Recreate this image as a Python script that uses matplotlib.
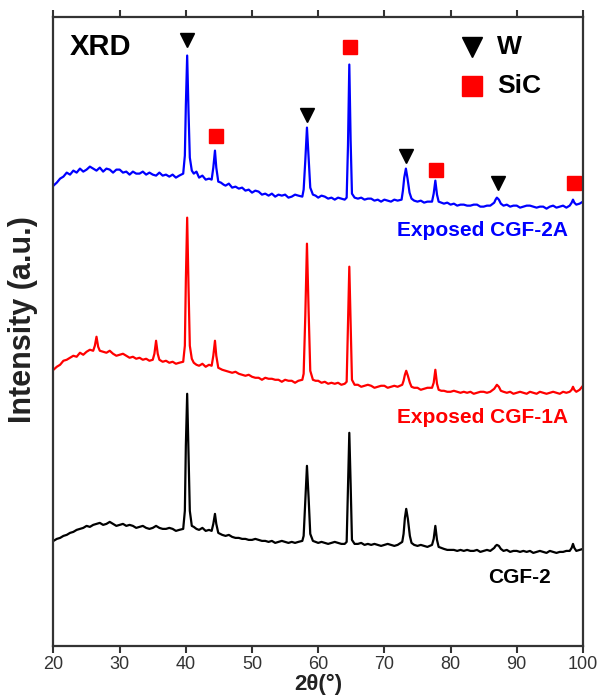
import matplotlib
matplotlib.use("Agg")
import matplotlib.pyplot as plt

plt.rcParams['font.family'] = ['Liberation Sans', 'DejaVu Sans']

# ---------------- data (2theta, intensity in a.u., already stacked) ----------------
two_theta_2A = [20, 20.5, 21, 21.5, 22, 22.5, 23, 23.5, 24, 24.5, 25, 25.5, 26, 26.5, 27, 27.5, 28, 28.5,
                29, 29.5, 30, 30.5, 31, 31.5, 32, 32.5, 33, 33.5, 34, 34.5, 35, 35.5, 36, 36.5, 37, 37.5,
                38, 38.5, 39, 39.6, 39.85, 40.0, 40.2, 40.4, 40.6, 40.9, 41.2, 41.6, 42, 42.5, 43, 43.5,
                43.9, 44.15, 44.4, 44.6, 44.9, 45.3, 45.7, 46, 46.5, 47, 47.5, 48, 48.5, 49, 49.5, 50,
                50.5, 51, 51.5, 52, 52.5, 53, 53.5, 54, 54.5, 55, 55.5, 56, 56.5, 57, 57.6, 57.8, 58.05,
                58.3, 58.55, 58.8, 59.2, 59.6, 60, 60.5, 61, 61.5, 62, 62.5, 63, 63.5, 64, 64.3, 64.5,
                64.7, 64.9, 65.1, 65.5, 66, 66.5, 67, 67.5, 68, 68.5, 69, 69.5, 70, 70.5, 71, 71.5, 72,
                72.6, 72.8, 73.0, 73.25, 73.5, 73.8, 74.1, 74.5, 75, 75.5, 76, 76.5, 77.2, 77.45, 77.7,
                77.95, 78.2, 78.6, 79, 79.5, 80, 80.5, 81, 81.5, 82, 82.5, 83, 83.5, 84, 84.5, 85, 85.5,
                86, 86.6, 86.8, 87.0, 87.3, 87.6, 88, 88.5, 89, 89.5, 90, 90.5, 91, 91.5, 92, 92.5, 93,
                93.5, 94, 94.5, 95, 95.5, 96, 96.5, 97, 97.5, 98, 98.3, 98.5, 98.7, 99, 99.5, 100]
counts_2A = [460, 463, 467, 469, 473, 471, 475, 473, 477, 474, 476, 479, 477, 475, 478, 474, 477, 476,
             473, 476, 476, 473, 474, 471, 474, 472, 472, 474, 471, 473, 471, 470, 473, 470, 471, 469,
             471, 468, 470, 472, 490, 540, 590, 535, 488, 475, 472, 474, 468, 470, 466, 467,
             466, 478, 495, 478, 464, 463, 461, 460, 462, 458, 459, 457, 458, 455, 456, 453,
             455, 454, 451, 452, 450, 452, 449, 451, 450, 451, 448, 449, 451, 450, 449, 456, 485,
             518, 488, 458, 451, 450, 448, 450, 449, 447, 448, 446, 448, 447, 446, 448, 500,
             581, 505, 452, 448, 447, 448, 446, 447, 447, 445, 446, 444, 446, 445, 444, 446, 445,
             446, 455, 468, 477, 467, 453, 447, 445, 444, 445, 443, 444, 444, 452, 465,
             451, 444, 443, 442, 443, 441, 442, 440, 441, 441, 440, 440, 441, 441, 439, 439, 440,
             440, 443, 446, 448, 446, 442, 440, 441, 439, 440, 440, 438, 439, 440, 440, 439, 438,
             439, 439, 437, 439, 440, 438, 439, 440, 438, 440, 443, 446, 443, 441, 442, 444]

two_theta_1A = [20, 20.5, 21, 21.5, 22, 22.5, 23, 23.5, 24, 24.5, 25, 25.5, 26, 26.25, 26.5, 26.75, 27,
                27.5, 28, 28.5, 29, 29.5, 30, 30.5, 31, 31.5, 32, 32.5, 33, 33.5, 34, 34.5, 35, 35.25,
                35.5, 35.75, 36, 36.5, 37, 37.5, 38, 38.5, 39, 39.6, 39.85, 40.0, 40.2, 40.4, 40.6,
                40.9, 41.2, 41.6, 42, 42.5, 43, 43.5, 43.9, 44.15, 44.4, 44.6, 44.9, 45.5, 46, 46.5,
                47, 47.5, 48, 48.5, 49, 49.5, 50, 50.5, 51, 51.5, 52, 52.5, 53, 53.5, 54, 54.5, 55,
                55.5, 56, 56.5, 57, 57.6, 57.8, 58.05, 58.3, 58.55, 58.8, 59.2, 59.6, 60, 60.5, 61,
                61.5, 62, 62.5, 63, 63.5, 64, 64.3, 64.5, 64.7, 64.9, 65.1, 65.5, 66, 66.5, 67, 67.5,
                68, 68.5, 69, 69.5, 70, 70.5, 71, 71.5, 72, 72.7, 72.9, 73.1, 73.3, 73.55, 73.85, 74.1,
                74.5, 75, 75.5, 76, 76.5, 77.2, 77.45, 77.7, 77.95, 78.2, 78.6, 79, 79.5, 80, 80.5, 81,
                81.5, 82, 82.5, 83, 83.5, 84, 84.5, 85, 85.5, 86, 86.6, 86.8, 87.0, 87.3, 87.6, 88,
                88.5, 89, 89.5, 90, 90.5, 91, 91.5, 92, 92.5, 93, 93.5, 94, 94.5, 95, 95.5, 96, 96.5,
                97, 97.5, 98, 98.3, 98.5, 98.7, 99, 99.5, 100]
counts_1A = [276, 279, 281, 285, 286, 288, 290, 289, 293, 291, 294, 296, 295, 300, 309, 299, 295,
             294, 293, 295, 292, 290, 291, 292, 290, 288, 289, 287, 288, 286, 287, 285, 286, 292,
             305, 292, 286, 284, 285, 283, 284, 282, 283, 284, 300, 365, 428, 360, 300,
             287, 283, 281, 280, 282, 279, 281, 280, 290, 305, 290, 278, 276, 275, 274,
             273, 274, 272, 271, 270, 271, 269, 268, 268, 266, 268, 267, 267, 266, 266, 264, 266,
             265, 265, 263, 265, 266, 272, 330, 402, 335, 275, 266, 265, 265, 263, 264,
             262, 263, 262, 263, 261, 262, 264, 320, 379, 322, 266, 261, 261, 259, 260, 261,
             260, 258, 259, 260, 260, 258, 259, 260, 259, 261, 265, 271, 275, 270, 263, 259,
             258, 258, 256, 257, 258, 258, 263, 276, 262, 256, 255, 255, 254, 254, 255, 254,
             253, 254, 253, 254, 252, 253, 254, 254, 253, 254, 257, 259, 261, 259, 255, 254,
             253, 254, 252, 253, 254, 253, 252, 254, 253, 252, 254, 253, 252, 253, 254, 253, 252,
             254, 253, 254, 256, 259, 256, 254, 256, 260]

two_theta_2 = [20, 20.5, 21, 21.5, 22, 22.5, 23, 23.5, 24, 24.5, 25, 25.5, 26, 26.5, 27, 27.5, 28,
               28.5, 29, 29.5, 30, 30.5, 31, 31.5, 32, 32.5, 33, 33.5, 34, 34.5, 35, 35.5, 36, 36.5,
               37, 37.5, 38, 38.5, 39, 39.6, 39.85, 40.0, 40.2, 40.4, 40.6, 40.9, 41.2, 41.6, 42,
               42.5, 43, 43.5, 43.9, 44.15, 44.4, 44.6, 44.9, 45.5, 46, 46.5, 47, 47.5, 48, 48.5, 49,
               49.5, 50, 50.5, 51, 51.5, 52, 52.5, 53, 53.5, 54, 54.5, 55, 55.5, 56, 56.5, 57, 57.6,
               57.8, 58.05, 58.3, 58.55, 58.8, 59.2, 59.6, 60, 60.5, 61, 61.5, 62, 62.5, 63, 63.5, 64,
               64.3, 64.5, 64.7, 64.9, 65.1, 65.5, 66, 66.5, 67, 67.5, 68, 68.5, 69, 69.5, 70, 70.5,
               71, 71.5, 72, 72.7, 72.9, 73.1, 73.3, 73.55, 73.85, 74.1, 74.5, 75, 75.5, 76, 76.5,
               77.2, 77.45, 77.7, 77.95, 78.2, 78.6, 79, 79.5, 80, 80.5, 81, 81.5, 82, 82.5, 83, 83.5,
               84, 84.5, 85, 85.5, 86, 86.6, 86.8, 87.0, 87.3, 87.6, 88, 88.5, 89, 89.5, 90, 90.5,
               91, 91.5, 92, 92.5, 93, 93.5, 94, 94.5, 95, 95.5, 96, 96.5, 97, 97.5, 98, 98.3, 98.5,
               98.7, 99, 99.5, 100]
counts_2 = [105, 107, 108, 110, 111, 113, 114, 116, 117, 118, 120, 119, 121, 122, 123, 121, 122,
            124, 122, 120, 121, 122, 120, 121, 120, 118, 119, 120, 118, 117, 118, 120, 118, 117,
            117, 118, 117, 115, 116, 117, 135, 200, 252, 195, 135, 120, 119, 117, 116,
            118, 115, 116, 115, 122, 132, 122, 113, 111, 110, 111, 109, 108, 108, 107, 107,
            106, 106, 107, 106, 105, 105, 104, 105, 103, 104, 105, 104, 103, 104, 103, 104, 105,
            110, 145, 180, 148, 112, 105, 104, 103, 104, 103, 102, 103, 104, 103, 102, 102,
            104, 160, 213, 162, 106, 102, 102, 103, 101, 102, 101, 102, 101, 100, 101, 102,
            101, 100, 101, 104, 112, 128, 137, 127, 110, 103, 101, 100, 101, 100, 99,
            101, 107, 120, 106, 99, 98, 97, 96, 96, 96, 95, 96, 95, 96, 95, 95,
            96, 94, 95, 96, 95, 98, 100, 101, 100, 97, 95, 96, 94, 95, 95, 94,
            95, 94, 95, 93, 94, 95, 94, 93, 95, 94, 93, 94, 94, 95, 95, 98, 102,
            98, 95, 96, 97]

# phase markers (peak position, marker height)
w_peaks = [40.2, 58.3, 73.3, 87.2]
w_heights = [606, 531, 490, 463]
sic_peaks = [44.5, 64.8, 77.8, 98.7]
sic_heights = [510, 599, 476, 463]

x_ticks = [20, 30, 40, 50, 60, 70, 80, 90, 100]
sample_labels = ["Exposed CGF-2A", "Exposed CGF-1A", "CGF-2"]

# ---------------- figure ----------------
fig = plt.figure(figsize=(6.03, 6.97), dpi=100)
ax = fig.add_axes([0.0887, 0.0732, 0.878, 0.9017])

ax.plot(two_theta_2, counts_2, color='black', lw=1.6)
ax.plot(two_theta_1A, counts_1A, color='#ff0000', lw=1.6)
ax.plot(two_theta_2A, counts_2A, color='#0000ff', lw=1.6)

ax.plot(w_peaks, w_heights, linestyle='none', marker='v', color='black', markersize=10.5)
ax.plot(sic_peaks, sic_heights, linestyle='none', marker='s', color='#ff0000', markersize=10.5)

# legend-like annotations
ax.plot([83.3], [599], marker='v', color='black', markersize=14, linestyle='none')
ax.plot([83.3], [560], marker='s', color='#ff0000', markersize=14, linestyle='none')
ax.text(87.0, 599, "W", fontsize=19, fontweight='bold', va='center', ha='left')
ax.text(87.0, 560, "SiC", fontsize=19, fontweight='bold', va='center', ha='left')
ax.text(22.5, 599, "XRD", fontsize=21, fontweight='bold', va='center', ha='left')

ax.text(97.8, 415, sample_labels[0], color='#0000ff', fontsize=15, fontweight='bold', va='center', ha='right')
ax.text(97.8, 228, sample_labels[1], color='#ff0000', fontsize=15, fontweight='bold', va='center', ha='right')
ax.text(95.1, 68, sample_labels[2], color='black', fontsize=15, fontweight='bold', va='center', ha='right')

ax.set_xlim(20, 100)
ax.set_ylim(0, 628)
ax.set_xticks(x_ticks)
ax.set_yticks([])
ax.tick_params(axis='x', which='both', direction='out', top=True, bottom=True, labeltop=False,
               length=5, width=1.5, color='#333333', labelsize=13, labelcolor='#333333', pad=2)
for s in ax.spines.values():
    s.set_color('#333333')
    s.set_linewidth(1.6)

ax.set_xlabel("2θ(°)", fontsize=16, fontweight='bold', color='#222222', labelpad=1)
ax.set_ylabel("Intensity (a.u.)", fontsize=22, fontweight='bold', color='#222222')
ax.yaxis.label.set_verticalalignment('center')
ax.yaxis.set_label_coords(-0.057, 0.52)

fig.savefig("out.png", dpi=100)
